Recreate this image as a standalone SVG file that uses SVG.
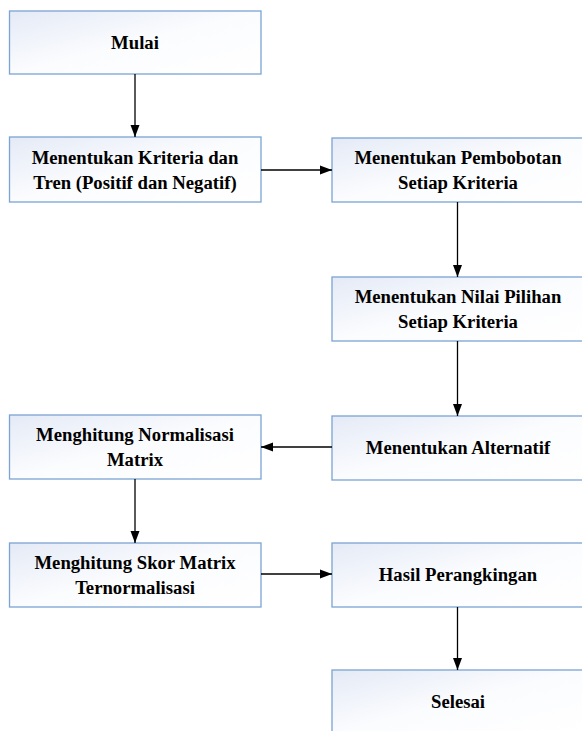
<svg xmlns="http://www.w3.org/2000/svg" width="582" height="731" viewBox="0 0 582 731">
<defs>
<linearGradient id="g" x1="0" y1="0" x2="1" y2="1">
<stop offset="0" stop-color="#e4eaf6"/>
<stop offset="0.5" stop-color="#fbfcfe"/>
<stop offset="1" stop-color="#ffffff"/>
</linearGradient>
<marker id="a" markerWidth="12" markerHeight="10" refX="12" refY="5" orient="auto" markerUnits="userSpaceOnUse">
<path d="M0,0.5 L12,5 L0,9.5 Z" fill="#000"/>
</marker>
</defs>
<style>
.b{fill:url(#g);stroke:#7ba3d3;stroke-width:1.3}
.t{font-weight:bold;font-size:18.7px;fill:#000;text-anchor:middle}
.c{stroke:#000;stroke-width:1.3;fill:none;marker-end:url(#a)}
</style>
<rect width="582" height="731" fill="#fff"/>
<g font-family="Liberation Serif, Times New Roman, serif">
<g id="n1"><rect class="b" x="9.5" y="11" width="251.5" height="63"/><text class="t" x="135" y="48.5">Mulai</text></g>
<g id="n2"><rect class="b" x="9.5" y="137" width="251.5" height="65"/><text class="t" x="135" y="163.5">Menentukan Kriteria dan</text><text class="t" x="135" y="188.5">Tren (Positif dan Negatif)</text></g>
<g id="n3"><rect class="b" x="332" y="138" width="252" height="64"/><text class="t" x="458" y="164">Menentukan Pembobotan</text><text class="t" x="458" y="189">Setiap Kriteria</text></g>
<g id="n4"><rect class="b" x="332" y="277" width="252" height="64"/><text class="t" x="458" y="303">Menentukan Nilai Pilihan</text><text class="t" x="458" y="328">Setiap Kriteria</text></g>
<g id="n5"><rect class="b" x="332" y="416" width="252" height="64"/><text class="t" x="458" y="454">Menentukan Alternatif</text></g>
<g id="n6"><rect class="b" x="9.5" y="415" width="251.5" height="64"/><text class="t" x="135" y="441">Menghitung Normalisasi</text><text class="t" x="135" y="466">Matrix</text></g>
<g id="n7"><rect class="b" x="9.5" y="543" width="251.5" height="64"/><text class="t" x="135" y="569">Menghitung Skor Matrix</text><text class="t" x="135" y="594">Ternormalisasi</text></g>
<g id="n8"><rect class="b" x="332" y="543" width="252" height="64"/><text class="t" x="458" y="581">Hasil Perangkingan</text></g>
<g id="n9"><rect class="b" x="332" y="670" width="252" height="64"/><text class="t" x="458" y="708">Selesai</text></g>
</g>
<g id="edges">
<line class="c" x1="135" y1="74" x2="135" y2="137"/>
<line class="c" x1="261" y1="170" x2="332" y2="170"/>
<line class="c" x1="457.5" y1="202" x2="457.5" y2="277"/>
<line class="c" x1="457.5" y1="341" x2="457.5" y2="416"/>
<line class="c" x1="332" y1="447" x2="261" y2="447"/>
<line class="c" x1="135" y1="479" x2="135" y2="543"/>
<line class="c" x1="261" y1="574" x2="332" y2="574"/>
<line class="c" x1="457.5" y1="607" x2="457.5" y2="670"/>
</g>
</svg>
